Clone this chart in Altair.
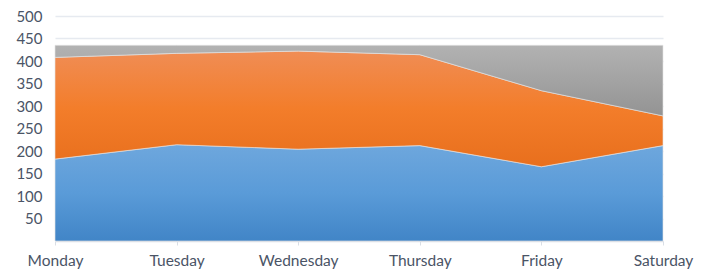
import altair as alt
import pandas as pd

days = ["Monday", "Tuesday", "Wednesday", "Thursday", "Friday", "Saturday"]
series = ["Blue", "Orange", "Gray"]
blue = [182, 214, 204, 212, 165, 212]
orange = [226, 203, 218, 202, 169, 66]
gray = [27, 18, 13, 21, 101, 157]
y_ticks = [50, 100, 150, 200, 250, 300, 350, 400, 450, 500]

rows = []
for order, (name, vals) in enumerate(zip(series, [blue, orange, gray])):
    for d, v in zip(days, vals):
        rows.append({"day": d, "series": name, "order": order, "value": v})
df = pd.DataFrame(rows)

def grad(top, mid, bottom):
    return alt.Gradient(
        gradient="linear", x1=0, y1=0, x2=0, y2=1,
        stops=[alt.GradientStop(color=top, offset=0),
               alt.GradientStop(color=mid, offset=0.5),
               alt.GradientStop(color=bottom, offset=1)],
    )

fills = {
    "Blue": grad("#6ea7dd", "#5a9bd8", "#4185c7"),
    "Orange": grad("#f08d55", "#f37d2a", "#e86f1d"),
    "Gray": grad("#b2b2b2", "#a3a3a3", "#939393"),
}

text_color = "#4a5466"
font = "Lato"

base = alt.Chart(df).transform_stack(
    stack="value", groupby=["day"], as_=["y0", "y1"],
    sort=[alt.SortField(field="order", order="ascending")],
)

x_enc = alt.X(
    "day:N", sort=days, title=None,
    scale=alt.Scale(type="point", padding=0),
    axis=alt.Axis(labelAngle=0, grid=False, domainColor="#d9dee5", tickColor="#d9dee5",
                  tickSize=4, labelPadding=8, labelFont=font, labelFontSize=15.5,
                  labelColor=text_color, labelFlush=False, domainWidth=1.5),
)
y_enc = alt.Y(
    "y1:Q", title=None,
    scale=alt.Scale(domain=[0, 500], nice=False),
    axis=alt.Axis(values=y_ticks, domain=False, ticks=False, tickSize=0, labelPadding=13,
                  gridColor="#e6eaf0", gridWidth=1.5, labelFont=font, labelFontSize=15,
                  labelColor=text_color),
)

layers = []
for name in series:
    layers.append(
        base.transform_filter(alt.datum.series == name)
        .mark_area(color=fills[name], stroke="#e4e4e4", strokeWidth=0.8, strokeOpacity=0.8)
        .encode(x=x_enc, y=y_enc, y2="y0:Q")
    )

chart = alt.layer(*layers).properties(
    width=608, height=225,
    autosize=alt.AutoSizeParams(type="none"),
    padding={"left": 47, "top": 8, "right": 40, "bottom": 30},
).configure_view(stroke=None)

chart.save("out.html", embed_options={"renderer": "svg", "actions": False})
